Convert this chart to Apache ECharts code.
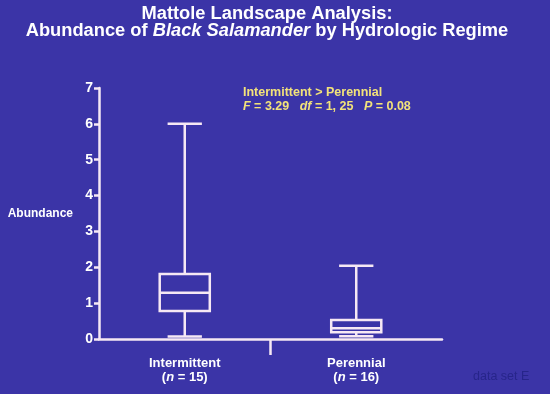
<!DOCTYPE html>
<html>
<head>
<meta charset="utf-8">
<script src="https://cdn.jsdelivr.net/npm/echarts@6/dist/echarts.min.js"></script>
<style>
  html, body { margin: 0; padding: 0; background: #3b34a7; }
  #chart { width: 550px; height: 394px; }
</style>
</head>
<body>
<div id="chart"></div>
<script>
// ---- data ----
const categories = ['Intermittent', 'Perennial'];
const sampleSizes = [15, 16];
// [min, Q1, median, Q3, max]
const intermittentBox = [0.07, 0.78, 1.29, 1.81, 6.0];
const perennialBox = [0.08, 0.19, 0.30, 0.53, 2.04];
const yTicks = [0, 1, 2, 3, 4, 5, 6, 7];
const statLine1 = 'Intermittent > Perennial';
const statF = '3.29', statDf = '1, 25', statP = '0.08';

const FONT = 'Liberation Sans, Arial, Helvetica, sans-serif';
const LINE = '#f6e8f4';
const YELLOW = '#f2e27a';

const boxes = [intermittentBox, perennialBox];
const seriesData = boxes.map((b, i) => [i].concat(b));

const shadow = { textShadowColor: 'rgba(0,0,0,0.45)', textShadowOffsetX: 1, textShadowOffsetY: 1 };

const chart = echarts.init(document.getElementById('chart'));
chart.setOption({
  backgroundColor: '#3b34a7',
  animation: false,
  title: [
    {
      text: '{b|Mattole Landscape Analysis:}\n{b|Abundance of }{bi|Black Salamander}{b| by Hydrologic Regime}',
      left: 267, top: 5, padding: 0, textAlign: 'center',
      textStyle: {
        rich: {
          b: Object.assign({ fontFamily: FONT, fontWeight: 'bold', fontSize: 18.3, color: '#ffffff', lineHeight: 17 }, shadow),
          bi: Object.assign({ fontFamily: FONT, fontWeight: 'bold', fontStyle: 'italic', fontSize: 18.3, color: '#ffffff', lineHeight: 17 }, shadow)
        }
      }
    },
    {
      text: '{y|' + statLine1 + '}\n{yi|F}{y| = ' + statF + '   }{yi|df}{y| = ' + statDf + '   }{yi|P}{y| = ' + statP + '}',
      left: 243, top: 86, padding: 0,
      textStyle: {
        rich: {
          y: { fontFamily: FONT, fontWeight: 'bold', fontSize: 12.5, color: YELLOW, lineHeight: 14 },
          yi: { fontFamily: FONT, fontWeight: 'bold', fontStyle: 'italic', fontSize: 12.5, color: YELLOW, lineHeight: 14 }
        }
      }
    },
    {
      text: 'data set E',
      left: 473, top: 370, padding: 0,
      textStyle: { fontFamily: FONT, fontWeight: 'normal', fontSize: 12.5, color: '#27258a' }
    }
  ],
  grid: { left: 99, right: 108, top: 88, bottom: 55 },
  xAxis: [
    {
      type: 'category',
      data: categories,
      boundaryGap: true,
      axisLine: { show: true, lineStyle: { color: LINE, width: 2.5 } },
      axisTick: { show: false },
      splitLine: { show: false },
      axisLabel: {
        margin: 17,
        interval: 0,
        formatter: function (v, i) {
          return '{b|' + v + '}\n{b|(}{bi|n}{b| = ' + sampleSizes[i] + ')}';
        },
        rich: {
          b: { fontFamily: FONT, fontWeight: 'bold', fontSize: 13, color: '#ffffff', lineHeight: 14 },
          bi: { fontFamily: FONT, fontWeight: 'bold', fontStyle: 'italic', fontSize: 13, color: '#ffffff', lineHeight: 14 }
        }
      }
    },
    {
      type: 'value',
      min: 0, max: 2,
      position: 'bottom',
      axisLine: { show: false },
      axisLabel: { show: false },
      splitLine: { show: false },
      axisTick: { show: true, customValues: [1], length: 16, inside: false, lineStyle: { color: LINE, width: 2.5 } }
    }
  ],
  yAxis: {
    type: 'value',
    min: yTicks[0], max: yTicks[yTicks.length - 1], interval: 1,
    name: 'Abundance',
    nameLocation: 'middle',
    nameRotate: 0,
    nameGap: 26,
    nameTextStyle: { fontFamily: FONT, fontWeight: 'bold', fontSize: 12, color: '#ffffff' },
    axisLine: { show: true, lineStyle: { color: LINE, width: 2.5 } },
    axisTick: { show: true, length: 5, inside: false, lineStyle: { color: LINE, width: 2.5 } },
    splitLine: { show: false },
    axisLabel: { margin: 6, fontFamily: FONT, fontWeight: 'bold', fontSize: 14, color: '#ffffff' }
  },
  series: [{
    type: 'custom',
    xAxisIndex: 0,
    yAxisIndex: 0,
    data: seriesData,
    encode: { x: 0, y: [1, 2, 3, 4, 5] },
    renderItem: function (params, api) {
      const c = api.value(0);
      const pMin = api.coord([c, api.value(1)]);
      const pQ1 = api.coord([c, api.value(2)]);
      const pMed = api.coord([c, api.value(3)]);
      const pQ3 = api.coord([c, api.value(4)]);
      const pMax = api.coord([c, api.value(5)]);
      const band = api.size([1, 0])[0];
      const hw = band * 0.146;
      const cw = band * 0.1;
      const x = pMed[0];
      const style = { stroke: LINE, lineWidth: 2.5, fill: null };
      return {
        type: 'group',
        children: [
          { type: 'rect', shape: { x: x - hw, y: pQ3[1], width: hw * 2, height: pQ1[1] - pQ3[1] }, style: Object.assign({}, style) },
          { type: 'line', shape: { x1: x - hw, y1: pMed[1], x2: x + hw, y2: pMed[1] }, style: Object.assign({}, style) },
          { type: 'line', shape: { x1: x, y1: pQ3[1], x2: x, y2: pMax[1] }, style: Object.assign({}, style) },
          { type: 'line', shape: { x1: x, y1: pQ1[1], x2: x, y2: pMin[1] }, style: Object.assign({}, style) },
          { type: 'line', shape: { x1: x - cw, y1: pMax[1], x2: x + cw, y2: pMax[1] }, style: Object.assign({}, style) },
          { type: 'line', shape: { x1: x - cw, y1: pMin[1], x2: x + cw, y2: pMin[1] }, style: Object.assign({}, style) }
        ]
      };
    }
  }]
});
</script>
</body>
</html>
